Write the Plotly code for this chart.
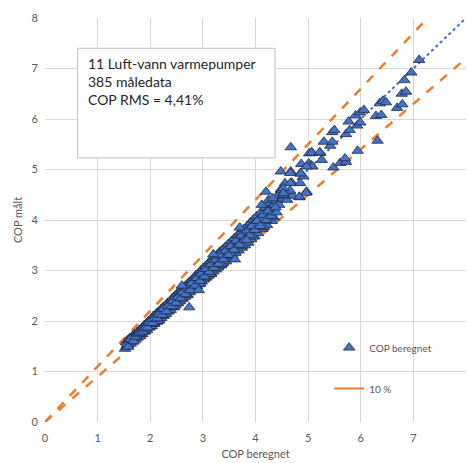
import plotly.graph_objects as go

# Dense band (COP beregnet, COP målt)
cop_beregnet = [
    1.52, 1.54, 1.55, 1.57, 1.58, 1.60, 1.61, 1.63, 1.64, 1.66, 1.67, 1.69, 1.70, 1.72, 1.73, 1.75,
    1.76, 1.78, 1.79, 1.81, 1.82, 1.84, 1.85, 1.87, 1.88, 1.90, 1.91, 1.93, 1.94, 1.96, 1.97, 1.99,
    2.00, 2.02, 2.03, 2.05, 2.06, 2.08, 2.09, 2.11, 2.12, 2.14, 2.15, 2.17, 2.18, 2.20, 2.21, 2.23,
    2.24, 2.26, 2.27, 2.29, 2.30, 2.32, 2.33, 2.35, 2.36, 2.38, 2.39, 2.41, 2.42, 2.44, 2.45, 2.47,
    2.48, 2.50, 2.51, 2.53, 2.54, 2.56, 2.57, 2.59, 2.60, 2.62, 2.63, 2.65, 2.66, 2.68, 2.69, 2.71,
    2.72, 2.74, 2.75, 2.77, 2.78, 2.80, 2.81, 2.83, 2.84, 2.86, 2.87, 2.89, 2.90, 2.92, 2.93, 2.95,
    2.96, 2.98, 2.99, 3.01, 3.02, 3.04, 3.05, 3.07, 3.08, 3.10, 3.11, 3.13, 3.14, 3.16, 3.17, 3.19,
    3.20, 3.22, 3.23, 3.25, 3.26, 3.28, 3.29, 3.31, 3.32, 3.34, 3.35, 3.37, 3.38, 3.40, 3.42, 3.44,
    3.46, 3.48, 3.50, 3.52, 3.54, 3.56, 3.58, 3.60, 3.62, 3.64, 3.66, 3.68, 3.70, 3.72, 3.74, 3.76,
    3.78, 3.80, 3.82, 3.84, 3.86, 3.88, 3.90, 3.92, 3.94, 3.96, 3.98, 4.00, 4.02, 4.05, 4.08, 4.10,
    4.13, 4.16, 4.19, 4.22, 4.25, 4.28, 4.31, 4.34,
    # centre fillers
    1.56, 1.65, 1.74, 1.83, 1.92, 2.01, 2.10, 2.19, 2.28, 2.37, 2.46, 2.55, 2.64, 2.73, 2.82, 2.91,
    3.00, 3.09, 3.18, 3.27, 3.36, 3.45, 3.54, 3.63, 3.72, 3.81, 3.90, 3.99, 4.08, 4.17, 4.26,
    # lower edge
    2.15, 2.45, 2.70, 2.95, 3.15, 3.35, 3.55, 3.75, 3.95, 4.15, 4.35,
    # irregular band points
    1.58, 1.62, 1.68, 1.71, 1.77, 1.80, 1.86, 1.89, 1.95, 1.98, 2.04, 2.07, 2.13, 2.16, 2.22, 2.25,
    2.31, 2.34, 2.40, 2.43, 2.49, 2.52, 2.58, 2.61, 2.67, 2.70, 2.76, 2.79, 2.85, 2.88, 2.94, 2.97,
    3.03, 3.06, 3.12, 3.15, 3.21, 3.24, 3.30, 3.33, 3.39, 3.43, 3.49, 3.53, 3.59, 3.63, 3.69, 3.73,
    3.79, 3.83, 3.89, 3.93, 3.99, 4.03, 4.09, 4.14, 4.20, 4.24, 4.30, 4.36, 4.40, 4.12, 4.25, 3.70,
    3.20, 2.60,
    # scattered outliers in band
    2.74, 3.61, 3.83, 2.92,
    # upper region 4.2 - 7.1
    4.40, 4.45, 4.50, 4.38, 4.60, 4.62, 4.70, 4.48, 4.42, 4.20, 4.33, 4.53,
    4.48, 4.67, 4.85, 4.91, 4.69, 4.56, 4.50, 4.66, 4.97, 4.84,
    4.67, 4.87, 5.01, 5.06, 5.07, 5.23, 5.02, 5.26, 5.08, 4.97, 4.86, 4.66, 4.66, 4.85, 4.96, 4.83,
    4.53, 4.53, 5.07, 5.22, 5.30, 5.42, 5.46, 5.46, 5.50, 5.72, 5.79, 5.77, 5.93, 5.99, 5.90, 5.99,
    6.06, 6.29, 6.39, 6.36, 6.42, 6.48, 6.69, 6.79, 6.78, 6.86, 6.83, 6.96, 7.11,
    6.32, 5.94, 5.48, 5.61, 5.72, 5.70,
]
cop_malt = [
    1.45, 1.58, 1.50, 1.62, 1.53, 1.57, 1.66, 1.55, 1.61, 1.70, 1.59, 1.65, 1.74, 1.63, 1.69, 1.78,
    1.67, 1.73, 1.82, 1.70, 1.78, 1.86, 1.74, 1.83, 1.91, 1.79, 1.86, 1.96, 1.82, 1.90, 2.00, 1.87,
    1.95, 2.05, 1.90, 1.99, 2.10, 1.94, 2.03, 2.14, 1.98, 2.08, 2.18, 2.02, 2.12, 2.23, 2.06, 2.16,
    2.27, 2.10, 2.20, 2.31, 2.14, 2.25, 2.36, 2.19, 2.29, 2.40, 2.22, 2.33, 2.45, 2.27, 2.37, 2.50,
    2.31, 2.42, 2.54, 2.35, 2.46, 2.59, 2.39, 2.50, 2.63, 2.44, 2.55, 2.68, 2.48, 2.59, 2.72, 2.52,
    2.64, 2.77, 2.57, 2.68, 2.81, 2.61, 2.73, 2.86, 2.65, 2.77, 2.91, 2.69, 2.82, 2.95, 2.73, 2.86,
    3.00, 2.78, 2.91, 3.05, 2.82, 2.95, 3.09, 2.86, 3.00, 3.14, 2.90, 3.04, 3.19, 2.94, 3.09, 3.23,
    2.98, 3.13, 3.28, 3.02, 3.18, 3.32, 3.06, 3.22, 3.37, 3.10, 3.27, 3.41, 3.14, 3.31, 3.46, 3.18,
    3.36, 3.52, 3.23, 3.42, 3.58, 3.28, 3.48, 3.64, 3.35, 3.54, 3.70, 3.40, 3.60, 3.76, 3.45, 3.66,
    3.82, 3.50, 3.72, 3.88, 3.55, 3.78, 3.95, 3.62, 3.84, 4.01, 3.68, 3.90, 4.07, 3.74, 3.97, 4.15,
    3.82, 4.05, 4.24, 3.90, 4.12, 4.33, 3.98, 4.20,
    # centre fillers
    1.54, 1.63, 1.71, 1.80, 1.89, 1.98, 2.07, 2.15, 2.24, 2.33, 2.42, 2.51, 2.60, 2.69, 2.78, 2.87,
    2.96, 3.05, 3.14, 3.23, 3.32, 3.40, 3.49, 3.58, 3.67, 3.76, 3.85, 3.94, 4.03, 4.12, 4.21,
    # lower edge
    2.00, 2.28, 2.51, 2.74, 2.93, 3.12, 3.30, 3.49, 3.67, 3.86, 4.05,
    # irregular band points
    1.49, 1.64, 1.60, 1.69, 1.75, 1.76, 1.79, 1.85, 1.87, 1.97, 1.96, 2.04, 2.05, 2.13, 2.12, 2.24,
    2.19, 2.30, 2.29, 2.40, 2.36, 2.47, 2.45, 2.57, 2.53, 2.66, 2.61, 2.75, 2.70, 2.85, 2.79, 2.94,
    2.88, 3.03, 2.97, 3.12, 3.05, 3.21, 3.13, 3.30, 3.22, 3.39, 3.31, 3.48, 3.41, 3.59, 3.51, 3.69,
    3.61, 3.79, 3.70, 3.88, 3.80, 3.98, 3.88, 4.10, 4.00, 4.18, 4.08, 4.30, 4.15, 4.30, 4.40, 3.85,
    3.32, 2.70,
    # scattered outliers in band
    2.27, 3.22, 3.60, 2.61,
    # upper region
    4.38, 4.30, 4.42, 4.25, 4.40, 4.52, 4.48, 4.60, 4.48, 4.56, 4.43, 4.50,
    4.96, 4.96, 4.92, 4.86, 4.74, 4.73, 4.59, 4.58, 4.56, 4.45,
    5.44, 5.11, 5.12, 5.08, 5.34, 5.33, 5.32, 5.19, 5.06, 5.06, 4.92, 4.93, 4.73, 4.73, 4.54, 4.46,
    4.63, 4.53, 5.33, 5.34, 5.55, 5.47, 5.74, 5.55, 5.78, 5.70, 5.78, 5.95, 5.87, 5.93, 6.07, 6.13,
    6.18, 6.06, 6.08, 6.31, 6.36, 6.33, 6.22, 6.29, 6.50, 6.54, 6.77, 6.92, 7.17,
    5.57, 5.37, 5.04, 5.13, 5.15, 5.22,
]

fit_x = [1.5, 8]
fit_y = [1.5, 8]
ref_x = [0, 8]
upper_y = [0, 8.8]   # +10 %
lower_y = [0, 7.2]   # -10 %

info_lines = ["11 Luft-vann varmepumper", "385 måledata", "COP RMS = 4,41%"]

BLUE = "#4472C4"
ORANGE = "#ED7D31"
GRID = "#D9D9D9"
TXT = "#595959"
FONT = "Lato, 'Open Sans', sans-serif"

fig = go.Figure()

fig.add_trace(go.Scatter(
    x=fit_x, y=fit_y, mode="lines",
    line=dict(color=BLUE, width=2, dash="dot"),
    showlegend=False, hoverinfo="skip",
))
fig.add_trace(go.Scatter(
    x=ref_x, y=upper_y, mode="lines", name="10 %",
    line=dict(color=ORANGE, width=2.5, dash="dash"),
    showlegend=False,
))
fig.add_trace(go.Scatter(
    x=ref_x, y=lower_y, mode="lines", name="10 %",
    line=dict(color=ORANGE, width=2.5, dash="dash"),
    showlegend=False,
))
fig.add_trace(go.Scatter(
    x=cop_beregnet, y=cop_malt, mode="markers", name="COP beregnet",
    marker=dict(symbol="triangle-up", size=10, color=BLUE,
                line=dict(color="#1F2A44", width=0.8)),
    legendgroup="a", legendrank=1,
))
# legend-only entry (solid line, as in reference legend)
fig.add_trace(go.Scatter(
    x=[None], y=[None], mode="lines", name="10 %",
    line=dict(color=ORANGE, width=2),
    legendgroup="b", legendrank=2,
))

fig.add_shape(type="rect", xref="x", yref="y", x0=0.62, x1=4.37, y0=5.23, y1=7.40,
              line=dict(color="#BFBFBF", width=1), fillcolor="white", layer="above")
fig.add_annotation(
    xref="x", yref="y", x=0.78, y=7.30, xanchor="left", yanchor="top",
    text="<br>".join(info_lines), showarrow=False, align="left",
    font=dict(family=FONT, size=14, color="#262626"),
)

axis_common = dict(
    range=[0, 8], dtick=1, showgrid=True, gridcolor=GRID, gridwidth=1,
    zeroline=False, showline=False, ticks="",
    tickfont=dict(family=FONT, size=11, color=TXT),
)
fig.update_xaxes(**axis_common, ticklabelstandoff=8,
                 title=dict(text="COP beregnet", font=dict(family=FONT, size=11, color=TXT), standoff=7))
fig.update_yaxes(**axis_common, ticklabelstandoff=6,
                 title=dict(text="COP målt", font=dict(family=FONT, size=11, color=TXT), standoff=6))

fig.update_layout(
    width=467, height=463,
    margin=dict(l=45, r=1, t=18, b=41),
    paper_bgcolor="white", plot_bgcolor="white",
    showlegend=True,
    legend=dict(x=0.675, y=0.22, xanchor="left", yanchor="top",
                bgcolor="rgba(0,0,0,0)", tracegroupgap=22, traceorder="grouped",
                font=dict(family=FONT, size=10, color=TXT)),
)

fig.write_html("out.html")
